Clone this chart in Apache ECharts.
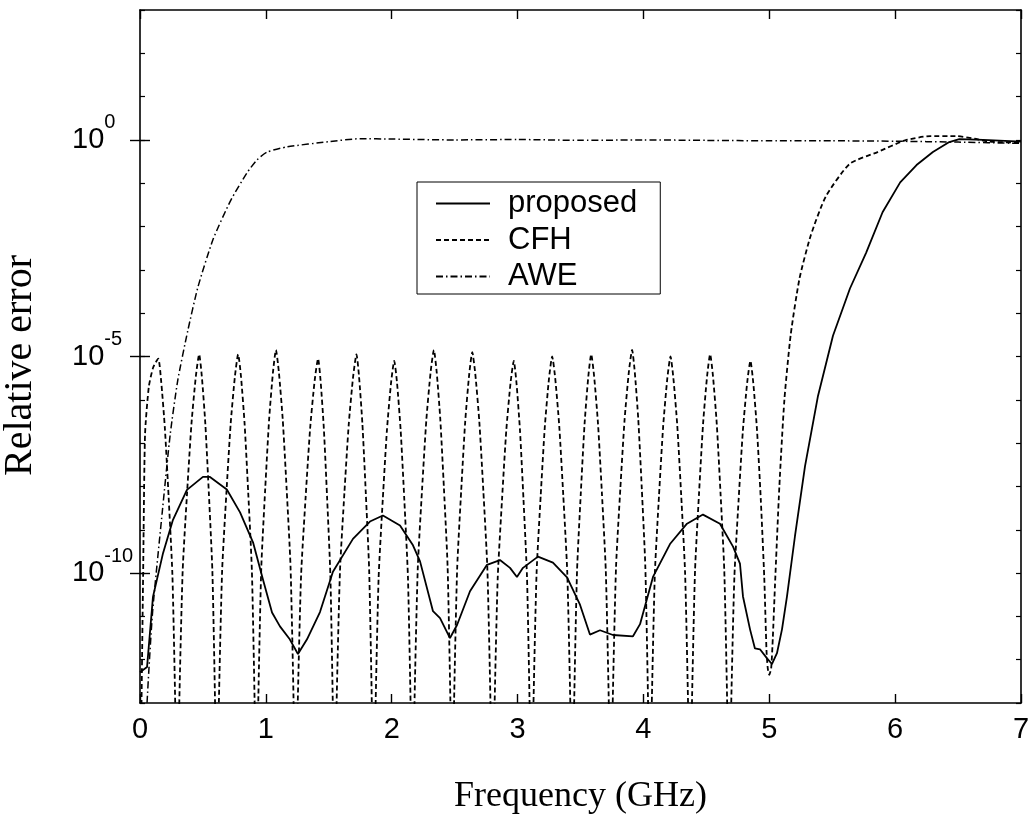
<!DOCTYPE html>
<html>
<head>
<meta charset="utf-8">
<script src="https://cdn.jsdelivr.net/npm/echarts@6/dist/echarts.min.js"></script>
<style>
html,body{margin:0;padding:0;background:#fff;}
#chart{width:1029px;height:817px;}
</style>
</head>
<body>
<div id="chart"></div>
<script>
// Values are log10(relative error)
const seriesNames = ['proposed', 'CFH', 'AWE'];
const xTicks = [0, 1, 2, 3, 4, 5, 6, 7];
const yLabelExponents = [0, -5, -10];

const proposedFreq = [0, 0.056, 0.103, 0.183, 0.262, 0.373, 0.50, 0.556, 0.69, 0.795, 0.898, 0.977, 1.049, 1.112, 1.19, 1.255, 1.327, 1.43, 1.533, 1.692, 1.827, 1.93, 2.066, 2.169, 2.225, 2.328, 2.384, 2.463, 2.519, 2.622, 2.757, 2.86, 2.94, 2.995, 3.043, 3.162, 3.281, 3.393, 3.496, 3.575, 3.655, 3.758, 3.917, 3.973, 4.076, 4.211, 4.346, 4.473, 4.608, 4.712, 4.767, 4.791, 4.847, 4.886, 4.926, 4.982, 5.021, 5.061, 5.101, 5.141, 5.204, 5.284, 5.387, 5.506, 5.641, 5.77, 5.90, 6.04, 6.17, 6.30, 6.43, 6.51, 6.70, 7.0];
const proposedLogErr = [-12.29, -12.17, -10.55, -9.54, -8.77, -8.08, -7.78, -7.78, -8.07, -8.60, -9.29, -10.15, -10.91, -11.23, -11.53, -11.87, -11.53, -10.90, -9.97, -9.21, -8.81, -8.67, -8.90, -9.36, -9.73, -10.88, -11.04, -11.50, -11.20, -10.42, -9.81, -9.70, -9.88, -10.09, -9.88, -9.62, -9.76, -10.10, -10.73, -11.42, -11.32, -11.43, -11.46, -11.18, -10.09, -9.33, -8.86, -8.65, -8.86, -9.39, -9.78, -10.54, -11.30, -11.74, -11.76, -11.97, -12.10, -11.85, -11.30, -10.53, -9.15, -7.53, -5.91, -4.52, -3.43, -2.60, -1.67, -0.98, -0.58, -0.28, -0.05, 0.02, 0.00, -0.04];

const cfhFreq = [
  0, 0.012, 0.025, 0.04, 0.07, 0.105, 0.145, 0.1675, 0.1975, 0.2275, 0.2575, 0.28, 0.295,
  0.3125, 0.339, 0.374, 0.409, 0.444, 0.47, 0.491, 0.519, 0.547, 0.575, 0.596, 0.61,
  0.627, 0.6525, 0.6865, 0.7205, 0.7545, 0.78, 0.802, 0.831, 0.86, 0.889, 0.9105, 0.925,
  0.9405, 0.964, 0.995, 1.026, 1.057, 1.08, 1.103, 1.134, 1.165, 1.196, 1.2195, 1.235,
  1.253, 1.28, 1.316, 1.352, 1.388, 1.415, 1.4345, 1.4605, 1.4865, 1.5125, 1.532, 1.545,
  1.5625, 1.589, 1.624, 1.659, 1.694, 1.72, 1.74, 1.767, 1.794, 1.821, 1.8415, 1.855,
  1.8715, 1.896, 1.929, 1.962, 1.995, 2.02, 2.042, 2.071, 2.1, 2.129, 2.1505, 2.165,
  2.182, 2.2075, 2.2415, 2.2755, 2.3095, 2.335, 2.357, 2.386, 2.415, 2.444, 2.4655, 2.48,
  2.496, 2.52, 2.552, 2.584, 2.616, 2.64, 2.664, 2.696, 2.728, 2.76, 2.784, 2.8,
  2.817, 2.8425, 2.8765, 2.9105, 2.9445, 2.97, 2.991, 3.019, 3.047, 3.075, 3.096, 3.11,
  3.1265, 3.151, 3.184, 3.217, 3.25, 3.275, 3.299, 3.331, 3.363, 3.395, 3.419, 3.435,
  3.45, 3.4725, 3.5025, 3.5325, 3.5625, 3.585, 3.608, 3.639, 3.67, 3.701, 3.7245, 3.74,
  3.757, 3.7825, 3.8165, 3.8505, 3.8845, 3.91, 3.931, 3.959, 3.987, 4.015, 4.036, 4.05,
  4.0665, 4.091, 4.124, 4.157, 4.19, 4.215, 4.238, 4.269, 4.3, 4.331, 4.3545, 4.37,
  4.386, 4.41, 4.442, 4.474, 4.506, 4.53, 4.5525, 4.5825, 4.6125, 4.6425, 4.665, 4.68,
  4.697, 4.7225, 4.7565, 4.7905, 4.8245, 4.85, 4.8725, 4.9025, 4.9325, 4.96, 4.978, 4.988,
  5.0, 5.015, 5.028, 5.045, 5.08, 5.12, 5.17, 5.24, 5.33, 5.45, 5.64, 5.86, 6.08, 6.28, 6.48, 6.63, 6.75, 7.0
];
const cfhLogErr = [
  -16, -13, -10, -6.8, -5.7, -5.25, -5.05, -5.55, -6.65, -8.25, -10.05, -13.05, -16,
  -12.95, -9.95, -8.15, -6.55, -5.45, -4.95, -5.45, -6.55, -8.15, -9.95, -12.95, -16,
  -12.95, -9.95, -8.15, -6.55, -5.45, -4.95, -5.45, -6.55, -8.15, -9.95, -12.95, -16,
  -12.85, -9.85, -8.05, -6.45, -5.35, -4.85, -5.35, -6.45, -8.05, -9.85, -12.85, -16,
  -13.05, -10.05, -8.25, -6.65, -5.55, -5.05, -5.55, -6.65, -8.25, -10.05, -13.05, -16,
  -12.95, -9.95, -8.15, -6.55, -5.45, -4.95, -5.45, -6.55, -8.15, -9.95, -12.95, -16,
  -13.1, -10.1, -8.3, -6.7, -5.6, -5.1, -5.6, -6.7, -8.3, -10.1, -13.1, -16,
  -12.85, -9.85, -8.05, -6.45, -5.35, -4.85, -5.35, -6.45, -8.05, -9.85, -12.85, -16,
  -12.9, -9.9, -8.1, -6.5, -5.4, -4.9, -5.4, -6.5, -8.1, -9.9, -12.9, -16,
  -13.1, -10.1, -8.3, -6.7, -5.6, -5.1, -5.6, -6.7, -8.3, -10.1, -13.1, -16,
  -13, -10, -8.2, -6.6, -5.5, -5.0, -5.5, -6.6, -8.2, -10, -13, -16,
  -12.95, -9.95, -8.15, -6.55, -5.45, -4.95, -5.45, -6.55, -8.15, -9.95, -12.95, -16,
  -12.85, -9.85, -8.05, -6.45, -5.35, -4.85, -5.35, -6.45, -8.05, -9.85, -12.85, -16,
  -13, -10, -8.2, -6.6, -5.5, -5.0, -5.5, -6.6, -8.2, -10, -13, -16,
  -12.95, -9.95, -8.15, -6.55, -5.45, -4.95, -5.45, -6.55, -8.15, -9.95, -12.95, -16,
  -13.1, -10.1, -8.3, -6.7, -5.6, -5.1, -5.6, -6.7, -8.3, -10.1, -11.8, -12.2,
  -12.35, -12.2, -11.5, -10.3, -8.0, -6.0, -4.5, -3.2, -2.2, -1.3, -0.55, -0.28, -0.01, 0.09, 0.09, 0.03, -0.04, -0.06
];

const aweFreq = [0.03, 0.056, 0.1, 0.18, 0.24, 0.30, 0.38, 0.46, 0.58, 0.72, 0.85, 0.93, 1.01, 1.17, 1.5, 1.75, 2.0, 2.5, 3.0, 3.5, 4.0, 4.5, 5.0, 5.5, 6.0, 6.5, 7.0];
const aweLogErr = [-15, -13, -10.9, -8.5, -6.8, -5.55, -4.4, -3.4, -2.3, -1.4, -0.76, -0.46, -0.28, -0.16, -0.04, 0.03, 0.02, 0.0, 0.01, -0.01, 0.0, -0.01, -0.02, -0.02, -0.03, -0.05, -0.08];

const toPairs = (xs, ys) => xs.map((x, i) => [x, ys[i]]);

const ink = '#000';
const lineW = 1.8;
const axisLineStyle = { show: true, onZero: false, lineStyle: { color: ink, width: 1.6 } };

const chart = echarts.init(document.getElementById('chart'), null, { renderer: 'canvas' });

const baseY = {
  type: 'value', min: -13, max: 3, interval: 1,
  splitLine: { show: false }, axisLabel: { show: false }
};

chart.setOption({
  backgroundColor: '#fff',
  animation: false,
  grid: { left: 140, right: 8, top: 10, bottom: 114, containLabel: false, outerBoundsMode: 'none' },
  legend: {
    left: 417, top: 182, orient: 'vertical',
    itemWidth: 54, itemHeight: 14, itemGap: 5.5,
    padding: [6, 23, 2, 18],
    borderColor: ink, borderWidth: 1,
    itemStyle: { opacity: 0, borderWidth: 0 },
    textStyle: { fontSize: 31, fontFamily: 'Liberation Sans', color: ink, lineHeight: 28.5, padding: [0, 0, 0, 13] },
    data: seriesNames
  },
  xAxis: [
    {
      type: 'value', min: 0, max: 7, interval: 1, position: 'bottom',
      axisLine: axisLineStyle,
      axisTick: { show: true, inside: true, length: 9, lineStyle: { color: ink, width: 1.4 } },
      axisLabel: { fontSize: 29, color: ink, fontFamily: 'Liberation Sans', margin: 12,
        formatter: v => xTicks.includes(Math.round(v)) ? String(Math.round(v)) : '' },
      splitLine: { show: false },
      name: 'Frequency (GHz)', nameLocation: 'middle', nameGap: 76,
      nameTextStyle: { fontSize: 36, fontFamily: 'Liberation Serif', color: ink }
    },
    {
      type: 'value', min: 0, max: 7, interval: 1, position: 'top',
      axisLine: axisLineStyle,
      axisTick: { show: true, inside: true, length: 9, lineStyle: { color: ink, width: 1.4 } },
      axisLabel: { show: false }, splitLine: { show: false }
    }
  ],
  yAxis: [
    Object.assign({}, baseY, {
      position: 'left',
      axisLine: axisLineStyle,
      axisTick: { show: true, inside: true, length: 5, lineStyle: { color: ink, width: 1.2 } },
      axisLabel: {
        show: true, align: 'left', margin: 68,
        formatter: v => {
          const n = Math.round(v);
          return yLabelExponents.includes(n) ? '{b|10}{s|' + n + '}' : '';
        },
        rich: {
          b: { fontSize: 29, fontFamily: 'Liberation Sans', color: ink, lineHeight: 29 },
          s: { fontSize: 20, fontFamily: 'Liberation Sans', color: ink, lineHeight: 20, padding: [0, 0, 34, 0] }
        }
      },
      name: 'Relative error', nameLocation: 'middle', nameGap: 100, nameRotate: 90,
      nameTextStyle: { fontSize: 40, fontFamily: 'Liberation Serif', color: ink, padding: [0, 18, 0, 0] }
    }),
    Object.assign({}, baseY, {
      position: 'left', axisLine: { show: false },
      axisTick: { show: true, inside: true, length: 10, customValues: yLabelExponents, lineStyle: { color: ink, width: 1.4 } }
    }),
    Object.assign({}, baseY, {
      position: 'right', axisLine: axisLineStyle,
      axisTick: { show: true, inside: true, length: 5, lineStyle: { color: ink, width: 1.2 } }
    }),
    Object.assign({}, baseY, {
      position: 'right', axisLine: { show: false },
      axisTick: { show: true, inside: true, length: 10, customValues: yLabelExponents, lineStyle: { color: ink, width: 1.4 } }
    })
  ],
  series: [
    {
      name: 'proposed', type: 'line', xAxisIndex: 0, yAxisIndex: 0,
      data: toPairs(proposedFreq, proposedLogErr),
      symbol: 'none', clip: true, smooth: false,
      lineStyle: { color: ink, width: lineW, type: 'solid' },
      itemStyle: { color: ink }, z: 5
    },
    {
      name: 'CFH', type: 'line', xAxisIndex: 0, yAxisIndex: 0,
      data: toPairs(cfhFreq, cfhLogErr),
      symbol: 'none', clip: true, smooth: 0.2,
      lineStyle: { color: ink, width: lineW, type: [5, 3] },
      itemStyle: { color: ink }, z: 4
    },
    {
      name: 'AWE', type: 'line', xAxisIndex: 0, yAxisIndex: 0,
      data: toPairs(aweFreq, aweLogErr),
      symbol: 'none', clip: true, smooth: 0.2,
      lineStyle: { color: ink, width: 1.5, type: [7, 3, 1.5, 3] },
      itemStyle: { color: ink }, z: 3
    }
  ]
});
</script>
</body>
</html>
